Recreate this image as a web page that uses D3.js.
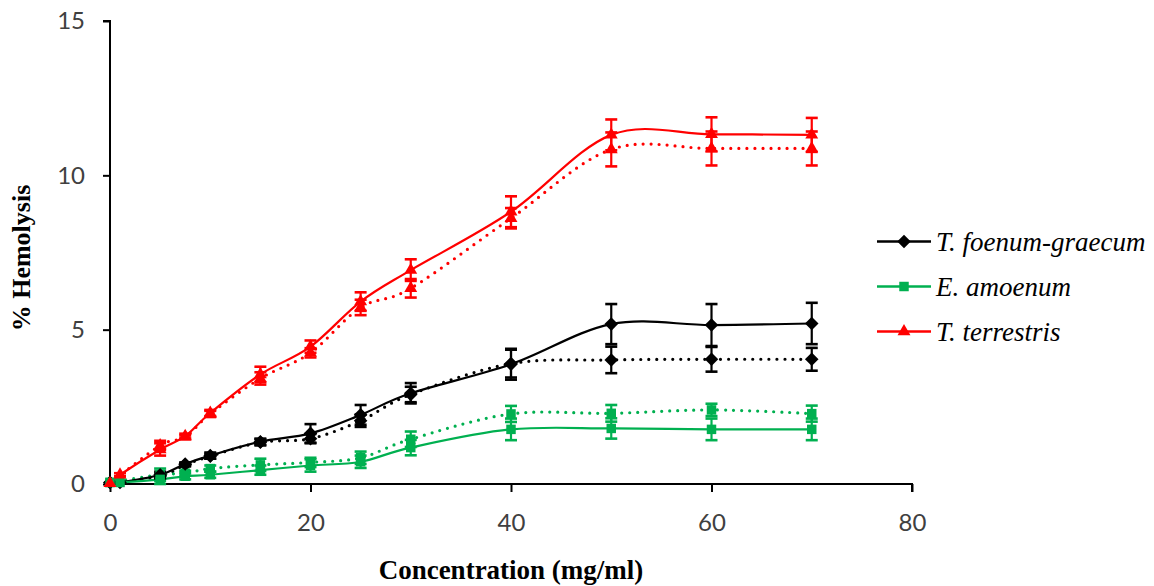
<!DOCTYPE html>
<html>
<head>
<meta charset="utf-8">
<script src="https://cdn.jsdelivr.net/npm/d3@7"></script>
<style>
  html, body { margin: 0; padding: 0; background: #fff; }
  svg { display: block; }
</style>
</head>
<body>
<svg id="chart" width="1154" height="586"></svg>
<script>
// ---------- data ----------
const xTicks = [0, 20, 40, 60, 80];
const yTicks = [0, 5, 10, 15];
const seriesNames = ["T. foenum-graecum", "E. amoenum", "T. terrestris"];

const concSolid  = [0, 1, 5, 7.5, 10, 15, 20, 25, 30, 40, 50, 60, 70];
const concDotted = [0, 5, 7.5, 10, 15, 20, 25, 30, 40, 50, 60, 70];

const tfgSolid    = [0.05, 0.05, 0.3, 0.65, 0.92, 1.37, 1.64, 2.24, 2.94, 3.88, 5.18, 5.15, 5.2];
const tfgSolidErr = [0, 0, 0.1, 0.05, 0.1, 0.1, 0.3, 0.32, 0.33, 0.5, 0.65, 0.68, 0.67];
const tfgDotted    = [0.05, 0.25, 0.62, 0.9, 1.35, 1.47, 2.05, 2.9, 3.9, 4.02, 4.04, 4.04];
const tfgDottedErr = [0, 0.08, 0.05, 0.08, 0.1, 0.15, 0.2, 0.25, 0.45, 0.43, 0.4, 0.37];

const eaSolid    = [0.05, 0.05, 0.15, 0.25, 0.3, 0.45, 0.6, 0.72, 1.18, 1.77, 1.8, 1.77, 1.77];
const eaSolidErr = [0, 0, 0.15, 0.1, 0.1, 0.15, 0.2, 0.2, 0.25, 0.35, 0.33, 0.35, 0.35];
const eaDotted    = [0.05, 0.3, 0.35, 0.5, 0.62, 0.7, 0.85, 1.45, 2.27, 2.29, 2.4, 2.28];
const eaDottedErr = [0, 0.2, 0.08, 0.1, 0.2, 0.15, 0.2, 0.25, 0.26, 0.27, 0.2, 0.26];

const ttSolid    = [0.02, 0.3, 1.12, 1.55, 2.3, 3.55, 4.45, 5.91, 6.93, 8.82, 11.31, 11.33, 11.31];
const ttSolidErr = [0, 0.05, 0.2, 0.08, 0.1, 0.25, 0.2, 0.3, 0.35, 0.5, 0.5, 0.55, 0.55];
const ttDotted    = [0.02, 1.25, 1.52, 2.27, 3.42, 4.25, 5.72, 6.34, 8.61, 10.84, 10.87, 10.87];
const ttDottedErr = [0, 0.15, 0.05, 0.1, 0.2, 0.15, 0.25, 0.3, 0.33, 0.55, 0.55, 0.55];

const colors = ["#000000", "#00B050", "#FF0000"];
const shapes = ["diamond", "square", "triangle"];

// ---------- layout ----------
const svg = d3.select("#chart");
const x = d3.scaleLinear().domain([0, 80]).range([110, 912]);
const y = d3.scaleLinear().domain([0, 15]).range([484, 21]);

const symbolFor = {
  diamond: d3.symbol().type(d3.symbolSquare).size(92),
  square: d3.symbol().type(d3.symbolSquare).size(90),
  triangle: d3.symbol().type(d3.symbolTriangle).size(72)
};

function markerPath(shape) { return symbolFor[shape](); }

const series = [
  { xs: concDotted, ys: tfgDotted, es: tfgDottedErr, c: 0, dotted: true },
  { xs: concDotted, ys: eaDotted,  es: eaDottedErr,  c: 1, dotted: true },
  { xs: concDotted, ys: ttDotted,  es: ttDottedErr,  c: 2, dotted: true },
  { xs: concSolid,  ys: tfgSolid,  es: tfgSolidErr,  c: 0, dotted: false },
  { xs: concSolid,  ys: eaSolid,   es: eaSolidErr,   c: 1, dotted: false },
  { xs: concSolid,  ys: ttSolid,   es: ttSolidErr,   c: 2, dotted: false }
];

// ---------- axes ----------
const yAxis = d3.axisLeft(y).tickValues(yTicks).tickSize(7).tickPadding(18).tickFormat(d3.format("d"));
const xAxis = d3.axisBottom(x).tickValues(xTicks).tickSize(8).tickPadding(22).tickFormat(d3.format("d"));

const gy = svg.append("g").attr("transform", `translate(${x(0)},0)`).call(yAxis);
const gx = svg.append("g").attr("transform", `translate(0,${y(0)})`).call(xAxis);
[gx, gy].forEach(g => {
  g.select(".domain").attr("stroke", "#000").attr("stroke-width", 2);
  g.selectAll(".tick line").attr("stroke", "#000").attr("stroke-width", 2);
  g.selectAll(".tick text").attr("fill", "#404040")
    .style("font-family", "Lato, 'Open Sans', sans-serif").style("font-size", "24px");
});
gy.select(".domain").attr("d", `M-7,${y(15)}H0V${y(0)}`);
gx.select(".domain").attr("d", `M${x(0)},0H${x(80)}V8`);

// ---------- lines ----------
const plot = svg.append("g");
series.forEach(s => {
  const pts = s.xs.map((v, i) => [v, s.ys[i], s.es[i]]);
  const line = d3.line().x(d => x(d[0])).y(d => y(d[1])).curve(d3.curveCardinal.tension(0));
  plot.append("path").datum(pts)
    .attr("d", line)
    .attr("fill", "none")
    .attr("stroke", colors[s.c])
    .attr("stroke-width", s.dotted ? 3.2 : 2.2)
    .attr("stroke-linecap", "round")
    .attr("stroke-dasharray", s.dotted ? "0 8" : null);
});

// ---------- error bars ----------
series.forEach(s => {
  const g = plot.append("g").attr("stroke", colors[s.c]);
  s.xs.forEach((v, i) => {
    const e = s.es[i];
    if (!(e > 0)) return;
    const cx = x(v), y1 = y(s.ys[i] + e), y2 = y(s.ys[i] - e);
    g.append("line").attr("x1", cx).attr("x2", cx).attr("y1", y1).attr("y2", y2).attr("stroke-width", 2.2);
    [y1, y2].forEach(yy => g.append("line").attr("x1", cx - 6).attr("x2", cx + 6)
      .attr("y1", yy).attr("y2", yy).attr("stroke-width", 2.6));
  });
});

// ---------- markers ----------
series.forEach(s => {
  const shape = shapes[s.c];
  s.xs.forEach((v, i) => {
    const rot = shape === "diamond" ? 45 : 0;
    plot.append("path")
      .attr("d", markerPath(shape))
      .attr("transform", `translate(${x(v)},${y(s.ys[i])}) rotate(${rot})`)
      .attr("fill", colors[s.c]);
  });
});

// ---------- axis titles ----------
svg.append("text")
  .attr("x", (x(0) + x(80)) / 2).attr("y", 579)
  .attr("text-anchor", "middle")
  .style("font-family", "'Liberation Serif', 'Times New Roman', serif")
  .style("font-weight", "bold").style("font-size", "27px")
  .text("Concentration (mg/ml)");

svg.append("text")
  .attr("transform", `translate(30,${258}) rotate(-90)`)
  .attr("text-anchor", "middle")
  .style("font-family", "'Liberation Serif', 'Times New Roman', serif")
  .style("font-weight", "bold").style("font-size", "26px")
  .text("% Hemolysis");

// ---------- legend ----------
const legendRowsY = [241.5, 286.5, 331.5];
const legend = svg.append("g");
seriesNames.forEach((name, i) => {
  const ly = legendRowsY[i];
  legend.append("line").attr("x1", 877).attr("x2", 931).attr("y1", ly).attr("y2", ly)
    .attr("stroke", colors[i]).attr("stroke-width", 2.4);
  legend.append("path").attr("d", markerPath(shapes[i]))
    .attr("transform", `translate(904,${ly}) rotate(${shapes[i] === "diamond" ? 45 : 0})`)
    .attr("fill", colors[i]);
  legend.append("text").attr("x", 936).attr("y", ly + 9)
    .style("font-family", "'Liberation Serif', 'Times New Roman', serif")
    .style("font-style", "italic").style("font-size", "27px")
    .attr("fill", "#000")
    .text(name);
});
</script>
</body>
</html>
